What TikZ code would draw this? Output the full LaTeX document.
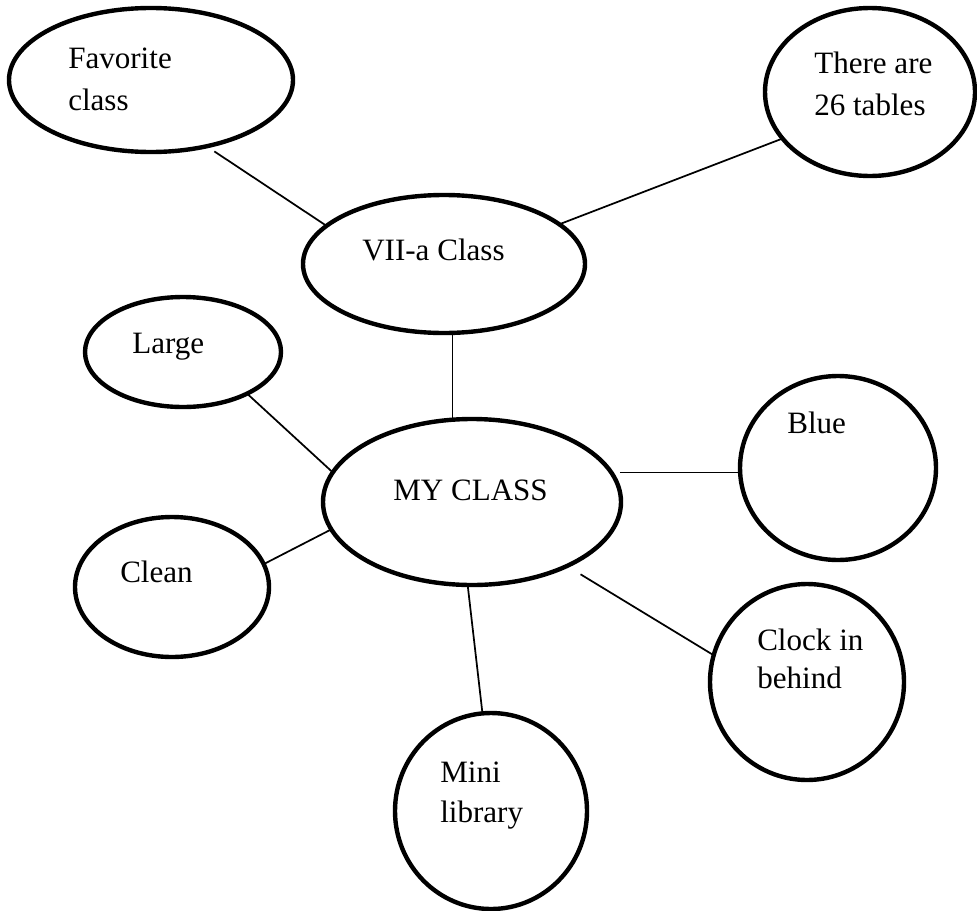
\documentclass[tikz,border=0pt]{standalone}
\usepackage{fontspec}
\setmainfont{Liberation Serif}
\usetikzlibrary{shapes.geometric}
\begin{document}
\begin{tikzpicture}[x=0.75pt,y=-0.75pt,
  bub/.style 2 args={ellipse, draw, line width=3.3pt, inner sep=0pt, outer sep=0pt,
    minimum width=#1*0.75pt, minimum height=#2*0.75pt},
  lbl/.style={anchor=base west, inner sep=0pt, font=\fontsize{23.3}{28}\selectfont},
  conn/.style={line width=1.3pt}]
\useasboundingbox (0,0) rectangle (977,910);
% bubbles
\node[bub={284}{144}] (fav)   at (151,80)  {};
\node[bub={210}{168}] (tab)   at (870,92)  {};
\node[bub={282}{138}] (vii)   at (444,264) {};
\node[bub={196}{110}] (large) at (183,352) {};
\node[bub={194}{140}] (clean) at (172,587) {};
\node[bub={298}{166}] (my)    at (472,502) {};
\node[bub={196}{184}] (blue)  at (838,468) {};
\node[bub={194}{196}] (clock) at (807,682) {};
\node[bub={192}{196}] (mini)  at (491,811) {};
% texts
\node[lbl] (t1a) at (68,68)   {Favorite};
\node[lbl] (t1b) at (68,110)  {class};
\node[lbl] (t2a) at (814,73)  {There are};
\node[lbl] (t2b) at (814,115) {26 tables};
\node[lbl] (t3)  at (362,260) {VII-a Class};
\node[lbl] (t4)  at (132,353) {Large};
\node[lbl] (t5)  at (393,500) {MY CLASS};
\node[lbl] (t6)  at (787,433) {Blue};
\node[lbl] (t7)  at (120,582) {Clean};
\node[lbl] (t8a) at (757,650) {Clock in};
\node[lbl] (t8b) at (757,688) {behind};
\node[lbl] (t9a) at (440,782) {Mini};
\node[lbl] (t9b) at (440,822) {library};
% connectors
\draw[conn, shorten <=7pt] (fav.-50) -- (vii.162);
\draw[conn] (vii.19.5) -- (tab.208);
\draw[conn] (vii.-83) -- (vii.-83 |- my.north);
\draw[conn] (large.-33.5) -- (my.168.5);
\draw[conn] (clean.14.5) -- (my.191.5);
\draw[conn, shorten <=6.5pt] (my.12) -- (my.12 -| blue.west);
\draw[conn, shorten <=12pt] (my.-34) -- (clock.164);
\draw[conn] (my.-93) -- (mini.95);
\end{tikzpicture}
\end{document}
